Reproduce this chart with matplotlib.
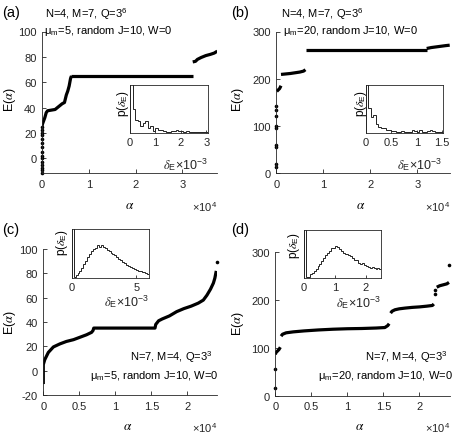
import os

os.environ.setdefault("MPLCONFIGDIR", "/tmp/matplotlib")

import matplotlib

matplotlib.use("Agg")
import matplotlib.pyplot as plt
import numpy as np

plt.rcParams["font.family"] = ["Liberation Sans", "DejaVu Sans"]
plt.rcParams["mathtext.fontset"] = "custom"
plt.rcParams["mathtext.rm"] = "Liberation Sans"
plt.rcParams["mathtext.it"] = "STIXGeneral:italic"
plt.rcParams["axes.unicode_minus"] = False

AXIS_COLOR = "#262626"

# sorted energies E(alpha), alpha in units of 1e4; each panel is a list of continuous pieces
A_ZERO = [-11.5, -9, -7.5, -5, -3, 0, 2, 5, 9, 12, 15, 18, 20, 22, 25]
A_ALPHA = [
    [0, 0.01, 0.03, 0.06, 0.09, 0.12, 0.2, 0.28, 0.33, 0.38, 0.43, 0.48, 0.52, 0.55, 0.58, 0.61, 0.63],
    [0.63, 3.22],
    [3.22, 3.28, 3.32, 3.4, 3.5, 3.6, 3.68, 3.745],
]
A_ENERGY = [
    [25, 27, 29, 32, 36, 37.5, 38, 38.5, 40, 41.5, 43, 44, 50, 53, 57, 63, 65],
    [65, 65],
    [76, 76.5, 78, 79.5, 81, 82, 83, 84.5],
]

B_ZERO = [13, 20, 55, 60, 95, 100, 120, 134, 141]
B_ALPHA = [
    [0.01, 0.04, 0.07, 0.1],
    [0.1, 0.2, 0.3, 0.4, 0.5, 0.58, 0.62],
    [0.63, 3.2],
    [3.2, 3.3, 3.45, 3.6, 3.69],
]
B_ENERGY = [
    [173, 176, 179, 185],
    [209, 210, 211, 212.5, 214, 216, 219],
    [261, 261],
    [264, 266, 268, 270, 271],
]

C_ZERO = [89]
C_ALPHA = [
    [0, 0, 0.01, 0.02, 0.07, 0.14, 0.23, 0.32, 0.42, 0.51, 0.6, 0.67, 0.69, 0.7, 1.55, 1.56,
     1.6, 1.65, 1.75, 1.85, 1.95, 2.05, 2.15, 2.22, 2.27, 2.32, 2.36, 2.38, 2.40],
]
C_ENERGY = [
    [-11, 5, 7, 9, 15, 19.5, 22, 24, 25.5, 27.5, 29.5, 31.5, 33, 35, 35, 38,
     41, 42.5, 45, 48.5, 51, 53, 55.5, 58, 62, 67, 72, 76, 82],
]
C_ZERO_ALPHA = [2.41]

D_ZERO = [17, 55, 212, 220, 272]
D_ZERO_ALPHA = [0, 0, 2.22, 2.22, 2.41]
D_ALPHA = [
    [0, 0.01, 0.03, 0.05, 0.07],
    [0.08, 0.1, 0.15, 0.25, 0.4, 0.6, 0.8, 1.0, 1.2, 1.4, 1.52, 1.56, 1.58],
    [1.6, 1.62, 1.66, 1.72, 1.8, 1.9, 2.0, 2.1, 2.18, 2.2],
    [2.24, 2.28, 2.33, 2.38, 2.41],
]
D_ENERGY = [
    [86, 90, 93, 96, 101],
    [124, 128, 131, 133, 135, 137, 138.5, 139.5, 140, 141, 142, 146, 150],
    [172, 176, 179, 181, 182.5, 184, 185, 186.5, 188, 191],
    [226, 229, 231, 233, 236],
]

# level spacing histograms p(delta_E), delta_E in units of 1e-3 (relative heights)
A_HIST_EDGES = np.arange(0, 3.11, 0.1)
A_HIST = [1.5, 0.5, 0.27, 0.25, 0.15, 0.22, 0.25, 0.12, 0.15, 0.05, 0.1, 0.07, 0.06, 0.04, 0.03,
          0.03, 0.05, 0.04, 0.06, 0.05, 0.04, 0.03, 0.04, 0.03, 0.02, 0.03, 0.02, 0.03, 0.02, 0.02, 0.02]
B_HIST_EDGES = np.arange(0, 1.551, 0.05)
B_HIST = [1.5, 0.52, 0.33, 0.38, 0.2, 0.14, 0.1, 0.11, 0.06, 0.07, 0.04, 0.05, 0.03, 0.02, 0.04,
          0.02, 0.03, 0.02, 0.06, 0.04, 0.03, 0.06, 0.02, 0.03, 0.05, 0.06, 0.04, 0.03, 0.02, 0.03, 0.02]
C_HIST_EDGES = np.arange(0, 6.01, 0.15)
C_HIST = [1.5, 0.02, 0.06, 0.1, 0.14, 0.2, 0.28, 0.35, 0.43, 0.5, 0.56, 0.59, 0.62, 0.68, 0.63,
          0.68, 0.64, 0.62, 0.58, 0.55, 0.52, 0.49, 0.46, 0.42, 0.39, 0.36, 0.33, 0.3, 0.27, 0.25,
          0.22, 0.2, 0.18, 0.17, 0.15, 0.14, 0.12, 0.13, 0.11, 0.08]
D_HIST_EDGES = np.arange(0, 2.501, 0.0625)
D_HIST = [1.5, 0.02, 0.03, 0.08, 0.1, 0.15, 0.2, 0.25, 0.3, 0.35, 0.42, 0.47, 0.53, 0.57, 0.62,
          0.62, 0.66, 0.64, 0.6, 0.57, 0.53, 0.51, 0.5, 0.47, 0.45, 0.42, 0.38, 0.37, 0.32, 0.3,
          0.31, 0.27, 0.26, 0.24, 0.22, 0.23, 0.21, 0.2, 0.21, 0.19]

W, H = 457, 435


def fig_rect(left, top, right, bottom):
    return [left / W, 1 - bottom / H, (right - left) / W, (bottom - top) / H]


def fig_text(fig, x, y, s, **kw):
    kw.setdefault("fontsize", 8)
    kw.setdefault("va", "center")
    fig.text(x / W, 1 - y / H, s, **kw)


def style_main(ax):
    for side in ("top", "right"):
        ax.spines[side].set_visible(False)
    for side in ("left", "bottom"):
        ax.spines[side].set_color(AXIS_COLOR)
        ax.spines[side].set_linewidth(0.6)
    ax.tick_params(direction="in", length=3, width=0.6, colors=AXIS_COLOR, labelsize=8, pad=4)


def style_inset(ax):
    for s in ax.spines.values():
        s.set_color(AXIS_COLOR)
        s.set_linewidth(0.6)
    ax.set_yticks([])
    ax.tick_params(axis="x", direction="in", length=2, width=0.6, colors=AXIS_COLOR, labelsize=8, pad=3)


def draw_curve(ax, alphas, energies, zero_e, zero_a=None):
    for xs, ys in zip(alphas, energies):
        ax.plot(xs, ys, color="black", lw=2.3, solid_capstyle="butt")
    if zero_a is None:
        zero_a = [0] * len(zero_e)
    ax.plot(zero_a, zero_e, "o", color="black", ms=2.6, mew=0, clip_on=False)


def draw_hist(ax, values, edges, xlim, xticks):
    ax.stairs(values, edges, color="#222222", lw=0.7)
    ax.set_xlim(*xlim)
    ax.set_ylim(0, 1)
    ax.set_xticks(xticks)
    ax.set_xticklabels([f"{t:g}" for t in xticks])
    style_inset(ax)


fig = plt.figure(figsize=(W / 100, H / 100), dpi=100)

panels = [
    dict(rect=(42, 32.5, 217.3, 174), alphas=A_ALPHA, energies=A_ENERGY, zero=A_ZERO, zero_a=None,
         xlim=(0, 3.745), ylim=(-11.6, 100), xticks=[0, 1, 2, 3], yticks=[0, 20, 40, 60, 80, 100],
         inset=(130, 86, 207.7, 134.3), hist=A_HIST, edges=A_HIST_EDGES, hxlim=(0, 3.05), hxticks=[0, 1, 2, 3]),
    dict(rect=(276.3, 32.5, 449.7, 174), alphas=B_ALPHA, energies=B_ENERGY, zero=B_ZERO, zero_a=None,
         xlim=(0, 3.69), ylim=(0, 300), xticks=[0, 1, 2, 3], yticks=[0, 100, 200, 300],
         inset=(365.7, 86, 443.3, 134.3), hist=B_HIST, edges=B_HIST_EDGES, hxlim=(0, 1.52), hxticks=[0, 0.5, 1, 1.5]),
    dict(rect=(43.3, 250, 217, 396), alphas=C_ALPHA, energies=C_ENERGY, zero=C_ZERO, zero_a=C_ZERO_ALPHA,
         xlim=(0, 2.41), ylim=(-20, 100), xticks=[0, 0.5, 1, 1.5, 2], yticks=[-20, 0, 20, 40, 60, 80, 100],
         inset=(71.7, 230, 149.3, 279), hist=C_HIST, edges=C_HIST_EDGES, hxlim=(0, 6), hxticks=[0, 5]),
    dict(rect=(275.3, 252.7, 449.7, 396.7), alphas=D_ALPHA, energies=D_ENERGY, zero=D_ZERO, zero_a=D_ZERO_ALPHA,
         xlim=(0, 2.42), ylim=(0, 300), xticks=[0, 0.5, 1, 1.5, 2], yticks=[0, 100, 200, 300],
         inset=(304, 230.7, 381.3, 279.3), hist=D_HIST, edges=D_HIST_EDGES, hxlim=(0, 2.5), hxticks=[0, 1, 2]),
]

for p in panels:
    ax = fig.add_axes(fig_rect(*p["rect"]))
    draw_curve(ax, p["alphas"], p["energies"], p["zero"], p["zero_a"])
    ax.set_xlim(*p["xlim"])
    ax.set_ylim(*p["ylim"])
    ax.set_xticks(p["xticks"])
    ax.set_xticklabels([f"{t:g}" for t in p["xticks"]])
    ax.set_yticks(p["yticks"])
    style_main(ax)
    ins = fig.add_axes(fig_rect(*p["inset"]))
    draw_hist(ins, p["hist"], p["edges"], p["hxlim"], p["hxticks"])

# panel letters and parameter labels
for lab, x, y in [("(a)", 2, 13), ("(b)", 231, 13), ("(c)", 2, 230), ("(d)", 231, 230)]:
    fig_text(fig, x, y, lab, fontsize=10.5)

fig_text(fig, 45, 14, "N=4, M=7, Q=3$^6$")
fig_text(fig, 44, 31, "μ$_\\mathrm{m}$=5, random J=10, W=0")
fig_text(fig, 281, 14, "N=4, M=7, Q=3$^6$")
fig_text(fig, 283, 31, "μ$_\\mathrm{m}$=20, random J=10, W=0")
fig_text(fig, 213, 357, "N=7, M=4, Q=3$^3$", ha="right")
fig_text(fig, 219, 376, "μ$_\\mathrm{m}$=5, random J=10, W=0", ha="right")
fig_text(fig, 448, 357, "N=7, M=4, Q=3$^3$", ha="right")
fig_text(fig, 453, 376, "μ$_\\mathrm{m}$=20, random J=10, W=0", ha="right")

# axis labels
for x, y in [(130, 206), (361, 206), (128, 427), (360, 427)]:
    fig_text(fig, x, y, "$\\alpha$", ha="center", fontsize=9.5)
for x, y in [(217, 207), (449.7, 207), (217, 428), (449.7, 428)]:
    fig_text(fig, x, y, "×10$^4$", ha="right", color=AXIS_COLOR)
for x, y in [(10, 100), (238, 100), (10, 323), (238, 324)]:
    fig_text(fig, x, y, "E($\\alpha$)", ha="center", rotation=90, fontsize=9)
for x, y in [(123, 103), (361, 103), (62, 242), (294, 245)]:
    fig_text(fig, x, y, "p($\\delta_\\mathrm{E}$)", ha="center", rotation=90, fontsize=8.5)
for x, y in [(208, 165), (442, 165), (149, 302), (381, 303)]:
    fig_text(fig, x, y, "$\\delta_\\mathrm{E}$×10$^{-3}$", ha="right", fontsize=9, color=AXIS_COLOR)

fig.savefig("out.png", dpi=100)
plt.close(fig)
